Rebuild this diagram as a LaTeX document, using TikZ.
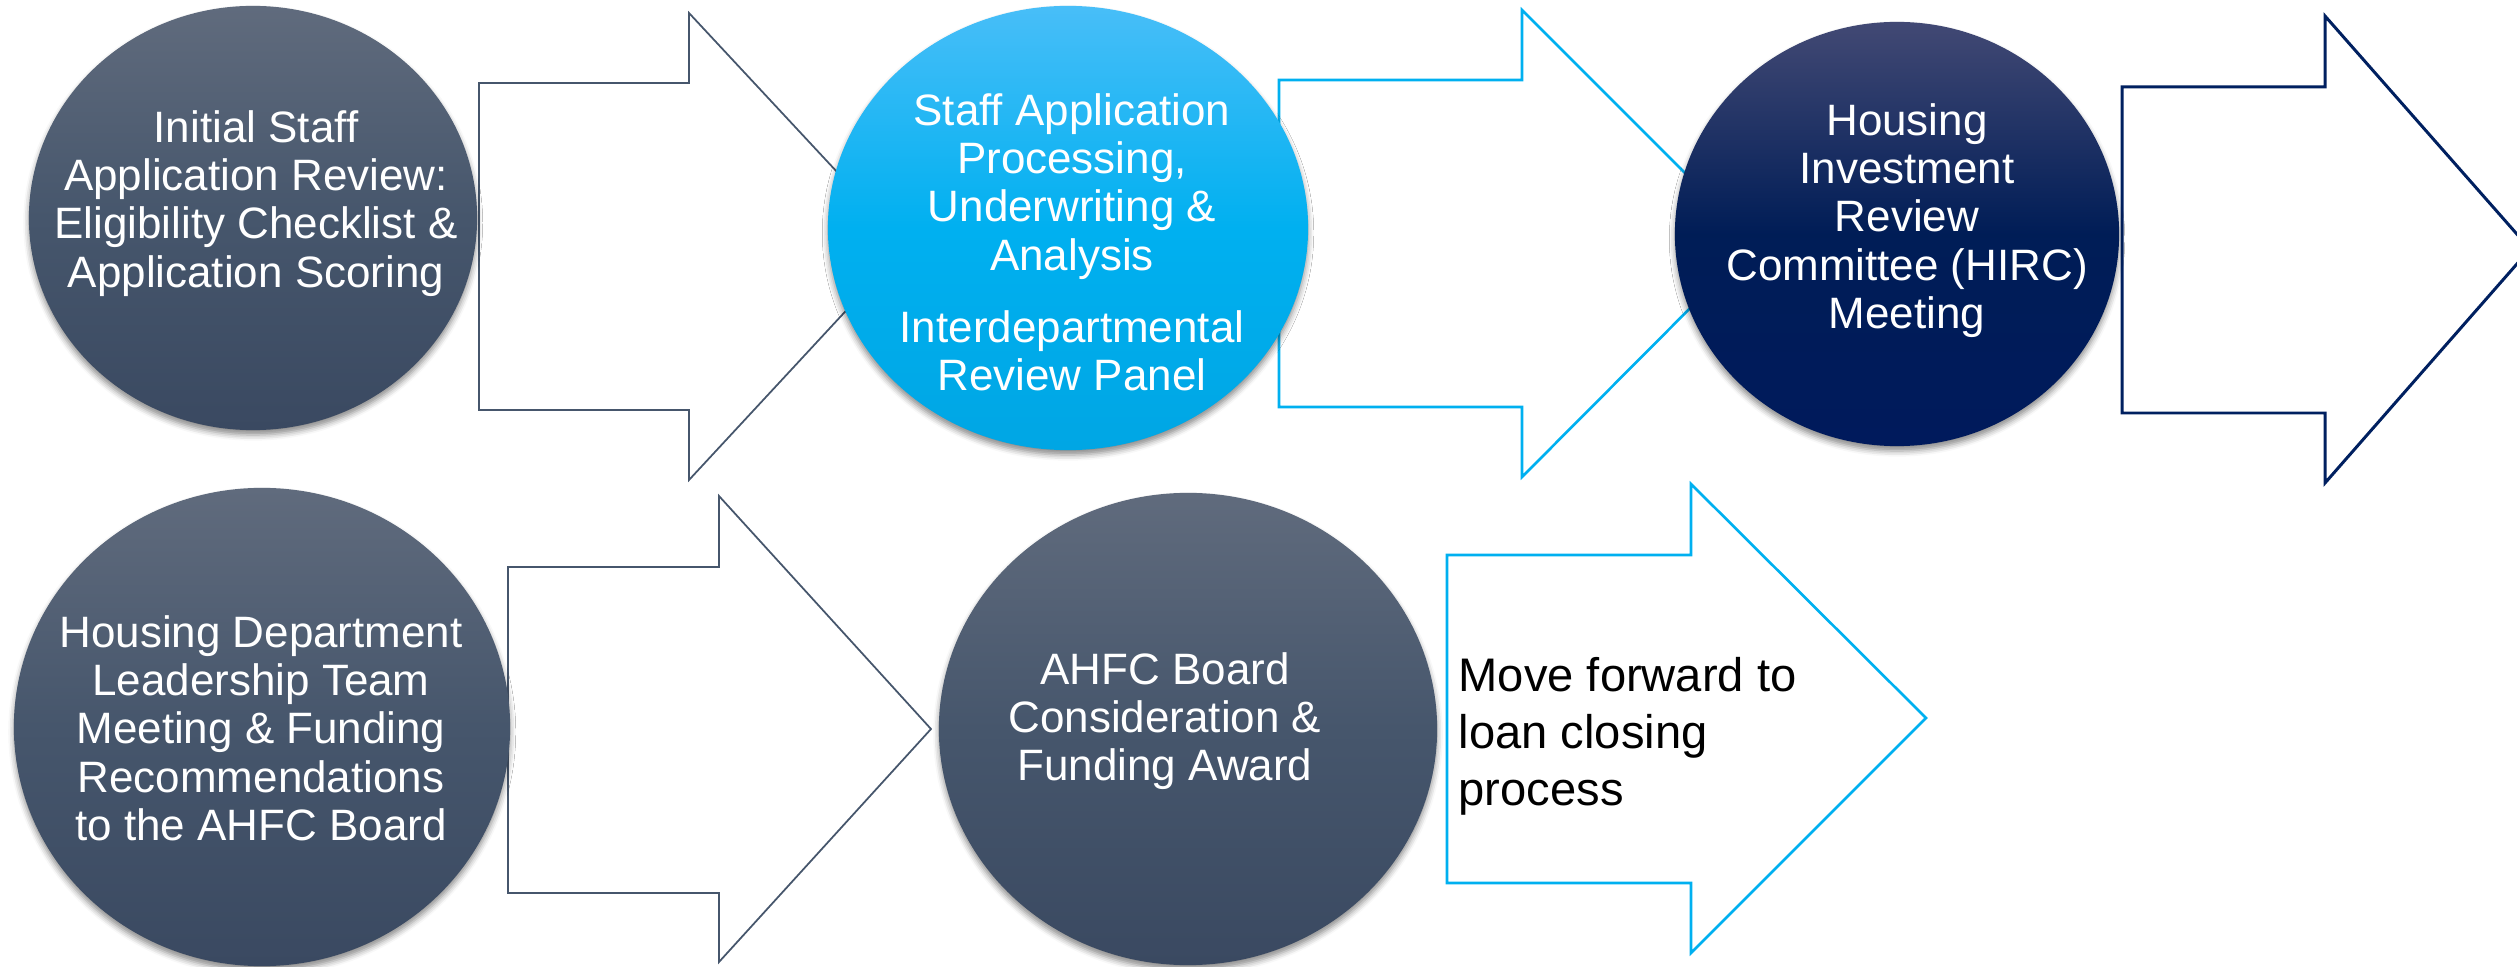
\documentclass[tikz,border=0pt]{standalone}
\usepackage{fontspec}
\setmainfont{Liberation Sans}
\usetikzlibrary{shapes.geometric,shadows.blur}

\definecolor{slate}{RGB}{70,86,108}
\definecolor{slatetop}{RGB}{96,107,125}
\definecolor{slatebot}{RGB}{58,73,97}
\definecolor{sky}{RGB}{0,176,240}
\definecolor{skytop}{RGB}{72,190,248}
\definecolor{skybot}{RGB}{0,166,228}
\definecolor{navy}{RGB}{0,32,96}
\definecolor{navytop}{RGB}{66,73,116}
\definecolor{navybot}{RGB}{0,26,92}

\tikzset{
every picture/.style={
line join=miter
}}

\begin{document}
\begin{tikzpicture}[x=0.01cm, y=-0.01cm,
stage/.style = {ellipse, inner sep=0pt, outer sep=0pt,
  blur shadow={shadow xshift=0pt, shadow yshift=-1.4pt, shadow blur radius=1.6pt, shadow opacity=45}},
slatestage/.style = {stage, top color=slatetop, bottom color=slatebot, middle color=slate},
skystage/.style = {stage, top color=skytop, bottom color=skybot, middle color=sky},
navystage/.style = {stage, top color=navytop, bottom color=navybot, middle color=navy!90!black},
caption/.style = {text=white, align=center, anchor=north, inner sep=0pt,
  font=\fontsize{12.5}{13.7}\selectfont},
blockarrow/.style = {fill=white, line width=0.75pt}]

\clip (0,0) rectangle (2517,967);

% block arrows sit behind the stages
\draw[blockarrow, draw=slate, line width=0.5pt] (479,83) -- (689,83) -- (689,13) -- (906,246)
  -- (689,480) -- (689,410) -- (479,410) -- cycle;
\draw[blockarrow, draw=sky] (1279,80) -- (1522,80) -- (1522,10) -- (1755,243)
  -- (1522,477) -- (1522,407) -- (1279,407) -- cycle;
\draw[blockarrow, draw=navy, line width=0.85pt] (2122,87) -- (2325,87) -- (2325,16) -- (2530,249)
  -- (2325,483) -- (2325,413) -- (2122,413) -- cycle;
\draw[blockarrow, draw=slate, line width=0.5pt] (508,567) -- (719,567) -- (719,496) -- (931,729)
  -- (719,962) -- (719,893) -- (508,893) -- cycle;
\draw[blockarrow, draw=sky] (1447,555) -- (1691,555) -- (1691,484) -- (1926,718)
  -- (1691,953) -- (1691,883) -- (1447,883) -- cycle;

% stages
\node[slatestage, minimum width=4.48cm, minimum height=4.24cm] (review) at (253,218) {};
\node[skystage, minimum width=4.80cm, minimum height=4.44cm] (process) at (1068,228) {};
\node[navystage, minimum width=4.44cm, minimum height=4.24cm] (hirc) at (1897,234) {};
\node[slatestage, minimum width=4.96cm, minimum height=4.78cm] (leader) at (262,727) {};
\node[slatestage, minimum width=4.98cm, minimum height=4.72cm] (board) at (1188,729) {};

% stage texts
\node[caption] (reviewtxt) at (256,110) {Initial Staff\\Application Review:\\Eligibility Checklist \&\\Application Scoring};
\node[caption] (processtxt) at (1072,93) {Staff Application\\Processing,\\Underwriting \&\\Analysis\\[6.8pt]Interdepartmental\\Review Panel};
\node[caption] (hirctxt) at (1907,103) {Housing\\Investment\\Review\\Committee (HIRC)\\Meeting};
\node[caption] (leadertxt) at (261,615) {Housing Department\\Leadership Team\\Meeting \& Funding\\Recommendations\\to the AHFC Board};
\node[caption] (boardtxt) at (1165,652) {AHFC Board\\Consideration \&\\Funding Award};

\node[anchor=north west, align=left, inner sep=0pt, font=\fontsize{13.4}{16.2}\selectfont] (closing) at (1458,657) {Move forward to\\loan closing\\process};
\end{tikzpicture}
\end{document}
